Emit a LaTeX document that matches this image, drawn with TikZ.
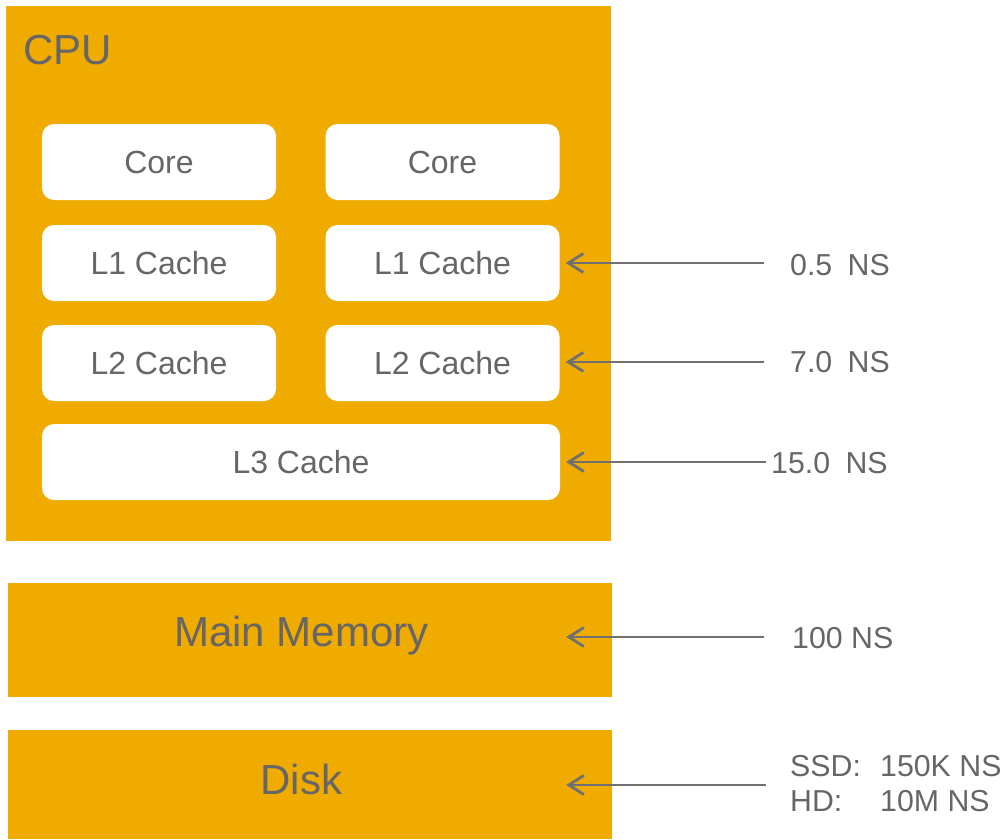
\documentclass[tikz,border=0pt]{standalone}
\usepackage{fontspec}
\setmainfont{Liberation Sans}
\usetikzlibrary{arrows.meta}
\definecolor{chiporange}{HTML}{F0AB00}
\definecolor{inkgray}{HTML}{666666}
\definecolor{wiregray}{HTML}{707070}

\begin{document}
\begin{tikzpicture}[x=1pt,y=-1pt,
  block/.style={fill=chiporange,inner sep=0pt},
  blockname/.style={anchor=base,inner sep=0pt,text=inkgray,font=\fontsize{42}{50}\selectfont},
  unit/.style={fill=white,rounded corners=12pt,minimum height=76pt,minimum width=234pt,
    inner sep=0pt,text=inkgray,font=\fontsize{32}{38}\selectfont},
  lat/.style={anchor=west,inner sep=0pt,align=left,text=inkgray,font=\fontsize{30.3}{35}\selectfont},
  wire/.style={draw=wiregray,line width=2.8pt,-{Straight Barb[length=15pt,width=19pt]},shorten >=6pt}]
\useasboundingbox (0,0) rectangle (1003,839);
\node[block,minimum width=605pt,minimum height=535pt] (cpu) at (308.5,273.5) {};
\node[blockname,anchor=base west] (cpuname) at (23,64) {CPU};
\node[unit] (core1) at (159,162) {Core};
\node[unit] (core2) at (442.5,162) {Core};
\node[unit] (l1a) at (159,263) {L1 Cache};
\node[unit] (l1b) at (442.5,263) {L1 Cache};
\node[unit] (l2a) at (159,363) {L2 Cache};
\node[unit] (l2b) at (442.5,363) {L2 Cache};
\node[unit,minimum width=518pt] (l3) at (301,462) {L3 Cache};
\node[block,minimum width=604pt,minimum height=114pt] (mem) at (310,640) {};
\node[blockname] (memname) at (301.5,646) {Main Memory};
\node[block,minimum width=604pt,minimum height=109pt] (disk) at (310,784.5) {};
\node[blockname] (diskname) at (301.5,794) {Disk};

\node[lat] (t1) at (790,265.5) {0.5\hspace{7pt} NS};
\node[lat] (t2) at (790,362.5) {7.0\hspace{7pt} NS};
\node[lat] (t3) at (771,463) {15.0\hspace{7pt} NS};
\node[lat] (t4) at (792,638.5) {100 NS};
\node[lat] (t5) at (790,784) {\makebox[90pt][l]{SSD:}150K NS\\\makebox[90pt][l]{HD:}10M NS};

\coordinate (a1) at (764,263);
\coordinate (a2) at (764,362);
\coordinate (a3) at (766,462);
\coordinate (a4) at (764,637);
\coordinate (a5) at (766,785);
\draw[wire] (a1) -- (a1 -| l1b.east);
\draw[wire] (a2) -- (a2 -| l2b.east);
\draw[wire] (a3) -- (a3 -| l3.east);
\draw[wire] (a4) -- (a4 -| l3.east);
\draw[wire] (a5) -- (a5 -| l3.east);
\end{tikzpicture}
\end{document}
